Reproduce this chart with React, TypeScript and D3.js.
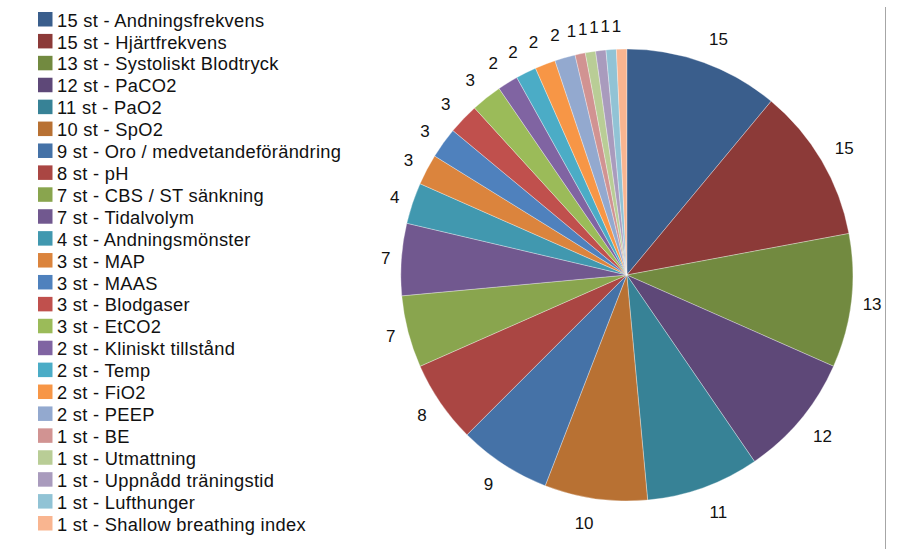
import React from "react";
import * as d3 from "d3";

// Parameters registered, number of occurrences each
const categories = [
  "Andningsfrekvens",
  "Hjärtfrekvens",
  "Systoliskt Blodtryck",
  "PaCO2",
  "PaO2",
  "SpO2",
  "Oro / medvetandeförändring",
  "pH",
  "CBS / ST sänkning",
  "Tidalvolym",
  "Andningsmönster",
  "MAP",
  "MAAS",
  "Blodgaser",
  "EtCO2",
  "Kliniskt tillstånd",
  "Temp",
  "FiO2",
  "PEEP",
  "BE",
  "Utmattning",
  "Uppnådd träningstid",
  "Lufthunger",
  "Shallow breathing index",
];

const counts = [15, 15, 13, 12, 11, 10, 9, 8, 7, 7, 4, 3, 3, 3, 3, 2, 2, 2, 2, 1, 1, 1, 1, 1];

const colors = [
  "#3A5E8C", "#8C3A38", "#728A40", "#5E4878", "#378296", "#B87133",
  "#4572A7", "#AA4643", "#89A54E", "#71588F", "#4198AF", "#DB843D",
  "#4F81BD", "#C0504D", "#9BBB59", "#8064A2", "#4BACC6", "#F79646",
  "#93A9CF", "#D19392", "#B9CD96", "#A99BBD", "#91C3D5", "#F9B590",
];

const W = 899;
const H = 549;
const FONT = '"Liberation Sans", Arial, Helvetica, sans-serif';

type Row = { name: string; count: number; color: string };
const rows: Row[] = categories.map((name, i) => ({ name, count: counts[i], color: colors[i] }));

export default function App() {
  const cx = 626.8;
  const cy = 275;
  const radius = 226;

  const pie = d3
    .pie<Row>()
    .sort(null)
    .value((d) => d.count)
    .startAngle(0)
    .endAngle(2 * Math.PI);
  const arcs = pie(rows);
  const arc = d3.arc<d3.PieArcDatum<Row>>().innerRadius(0).outerRadius(radius);

  // legend layout
  const legendX = 38;
  const legendY = d3.scaleLinear().domain([0, rows.length - 1]).range([12, 516]);
  const sw = 14.5;

  const labelFont = 17;
  const labelBase = 236;

  return (
    <svg
      width={W}
      height={H}
      style={{ position: "absolute", left: 0, top: 0, background: "#fff", fontFamily: FONT }}
    >
      <rect x={0} y={0} width={W} height={H} fill="#fff" />
      <line x1={885.5} x2={885.5} y1={7} y2={H} stroke="#A6A6A6" strokeWidth={1} />

      <g transform={`translate(${cx},${cy})`}>
        {arcs.map((a, i) => (
          <path key={i} d={arc(a) || ""} fill={a.data.color} stroke="#ffffff" strokeWidth={0.4} strokeOpacity={0.8} />
        ))}
        {arcs.map((a, i) => {
          // value labels sit just outside the rim, their box pushed clear of the slice
          const mid = (a.startAngle + a.endAngle) / 2;
          const ux = Math.sin(mid);
          const uy = -Math.cos(mid);
          const text = String(a.data.count);
          const tw = text.length * labelFont * 0.556;
          const r = labelBase + Math.abs(ux) * (tw / 2) + Math.abs(uy) * 13;
          const x = r * ux + Math.sign(ux) * (tw / 2) * (1 - Math.abs(ux));
          const y = r * uy;
          return (
            <text
              key={`l${i}`}
              x={x}
              y={y + labelFont * 0.36}
              textAnchor="middle"
              style={{ fontFamily: FONT, fontSize: labelFont }}
              fill="#111"
            >
              {text}
            </text>
          );
        })}
      </g>

      <g>
        {rows.map((d, i) => {
          const y = legendY(i);
          return (
            <g key={`lg${i}`}>
              <rect x={legendX} y={y} width={sw} height={sw} fill={d.color} />
              <text
                x={57}
                y={y + 14.6}
                style={{ fontFamily: FONT, fontSize: 18.3, letterSpacing: 0.3 }}
                fill="#111"
              >
                {`${d.count} st - ${d.name}`}
              </text>
            </g>
          );
        })}
      </g>
    </svg>
  );
}
